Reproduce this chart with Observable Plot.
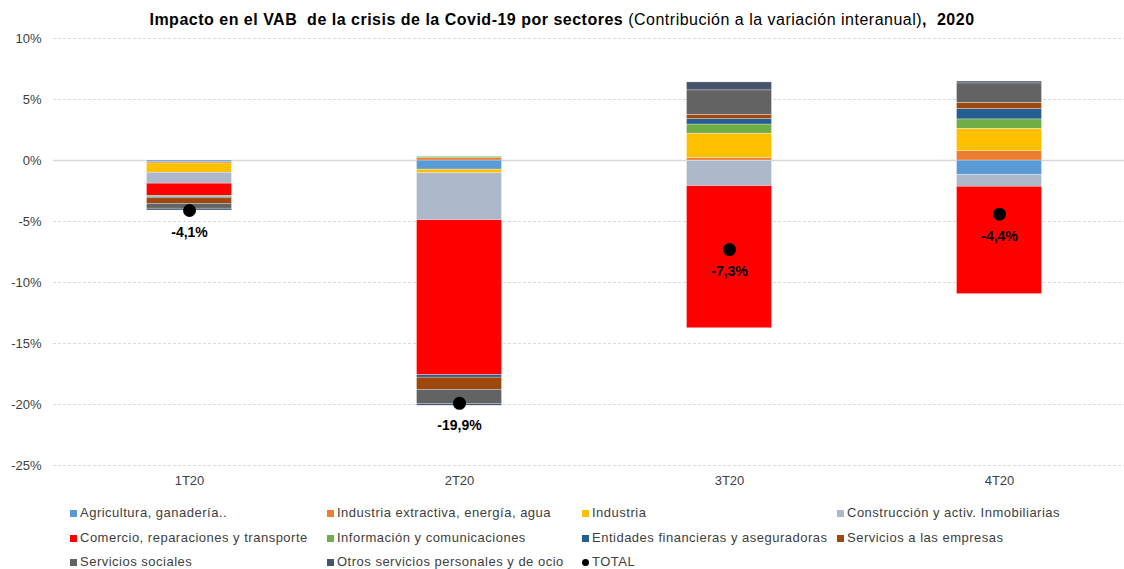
<!DOCTYPE html>
<html>
<head>
<meta charset="utf-8">
<script src="https://cdn.jsdelivr.net/npm/d3@7"></script>
<script src="https://cdn.jsdelivr.net/npm/@observablehq/plot@0.6"></script>
<style>
  body { margin: 0; background: #fff; font-family: "Liberation Sans", Arial, sans-serif; }
  #wrap { position: relative; width: 1124px; height: 569px; overflow: hidden; }
  #title { position: absolute; top: 6px; left: 0; width: 1124px; text-align: center; font-size: 16px; letter-spacing: 0.5px; line-height: 28px; color: #000; white-space: pre; }
  #title b { font-weight: bold; }
  #chart { position: absolute; top: 30px; left: 0; }
  .leg { position: absolute; font-size: 13px; letter-spacing: 0.5px; color: #404040; line-height: 16px; white-space: nowrap; }
  .sw { position: absolute; width: 7px; height: 7px; top: 5px; left: -10px; }
  .ci { position: absolute; width: 7px; height: 7px; top: 5px; left: -10px; border-radius: 50%; background: #000; }
</style>
</head>
<body>
<div id="wrap">
  <div id="title"><b>Impacto en el VAB  de la crisis de la Covid-19 por sectores </b>(Contribución a la variación interanual)<b>,  2020</b></div>
  <div id="chart"></div>
  <div id="legend"></div>
</div>
<script>
const quarters = ["1T20", "2T20", "3T20", "4T20"];
const sectors = [
  "Agricultura, ganadería..",
  "Industria extractiva, energía, agua",
  "Industria",
  "Construcción y activ. Inmobiliarias",
  "Comercio, reparaciones y transporte",
  "Información y comunicaciones",
  "Entidades financieras y aseguradoras",
  "Servicios a las empresas",
  "Servicios sociales",
  "Otros servicios personales y de ocio"
];
const colors = ["#5B9BD5", "#ED7D31", "#FFC000", "#ADB9CA", "#FF0000", "#70AD47", "#255E91", "#9E480E", "#636363", "#44546A"];

const agricultura   = [-0.15, -0.75, -0.05, -1.20];
const indExtractiva = [-0.10,  0.20,  0.20,  0.77];
const industria     = [-0.75, -0.30,  2.00,  1.83];
const construccion  = [-0.90, -3.85, -2.05, -0.95];
const comercio      = [-1.00, -12.70, -11.65, -8.80];
const informacion   = [-0.10,  0.10,  0.75,  0.77];
const entidades     = [-0.10, -0.20,  0.45,  0.85];
const servEmpresas  = [-0.45, -1.00,  0.35,  0.50];
const servSociales  = [-0.40, -1.15,  2.00,  1.60];
const otrosServ     = [-0.15, -0.15,  0.65,  0.15];
const total         = [-4.1, -19.9, -7.3, -4.4];
const totalLabels   = ["-4,1%", "-19,9%", "-7,3%", "-4,4%"];

const yTicks = [10, 5, 0, -5, -10, -15, -20, -25];

const series = [agricultura, indExtractiva, industria, construccion, comercio, informacion, entidades, servEmpresas, servSociales, otrosServ];
const rows = [];
series.forEach((vals, i) => vals.forEach((v, j) => rows.push({q: quarters[j], s: sectors[i], v})));
const totals = quarters.map((q, j) => ({q, v: total[j], label: totalLabels[j]}));

const chart = Plot.plot({
  width: 1124,
  height: 470,
  marginTop: 8,
  marginBottom: 35,
  marginLeft: 53,
  marginRight: 0,
  style: {fontFamily: "'Liberation Sans', Arial, sans-serif", fontSize: "13px", color: "#404040", background: "white"},
  x: {type: "band", domain: quarters, range: [53, 1134], padding: 0, label: null, tickSize: 0, tickPadding: 10},
  y: {domain: [-25, 10], ticks: yTicks, tickFormat: d => `${d}%`, label: null, tickSize: 0, tickPadding: 12},
  color: {domain: sectors, range: colors},
  marks: [
    Plot.ruleY(yTicks.filter(d => d !== 0), {stroke: "#d9d9d9", strokeDasharray: "3,2"}),
    Plot.ruleY([0], {stroke: "#d9d9d9", strokeWidth: 1.5}),
    Plot.barY(rows, Plot.stackY({x: "q", y: "v", fill: "s", order: sectors, insetLeft: 92.5, insetRight: 92.5, stroke: "white", strokeWidth: 0.5, strokeOpacity: 0.6})),
    Plot.dot(totals, {x: "q", y: "v", r: 6.5, fill: "black"}),
    Plot.text(totals, {x: "q", y: "v", text: "label", dy: 22, fill: "black", fontWeight: "bold", fontSize: 14})
  ]
});
document.getElementById("chart").appendChild(chart);

const legendEl = document.getElementById("legend");
const colX = [80, 337, 592, 847];
const rowY = [505, 530, 554];
const items = sectors.map((s, i) => ({s, c: colors[i]})).concat([{s: "TOTAL", c: null}]);
items.forEach((it, k) => {
  const d = document.createElement("div");
  d.className = "leg";
  d.style.left = colX[k % 4] + "px";
  d.style.top = rowY[Math.floor(k / 4)] + "px";
  const m = document.createElement("span");
  if (it.c) { m.className = "sw"; m.style.background = it.c; } else { m.className = "ci"; }
  d.appendChild(m);
  d.appendChild(document.createTextNode(it.s));
  legendEl.appendChild(d);
});
</script>
</body>
</html>
